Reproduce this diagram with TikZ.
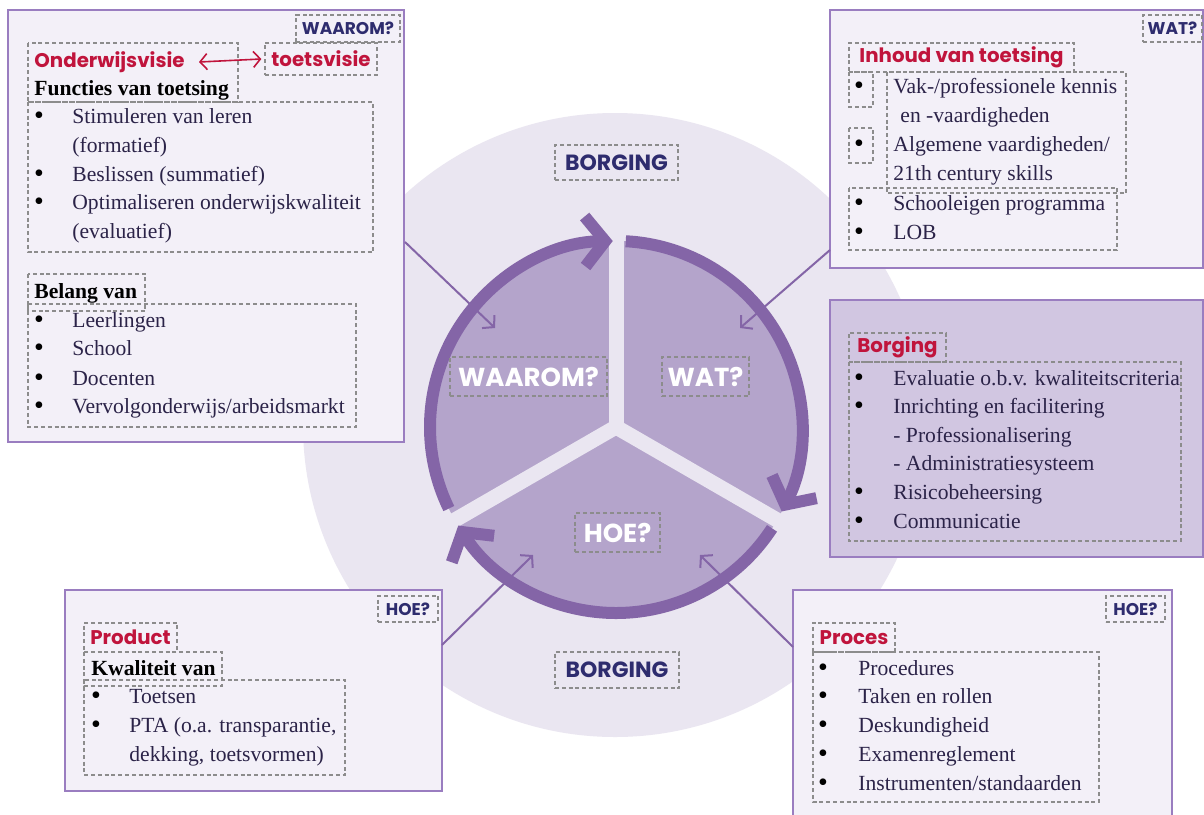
\documentclass[tikz,border=0pt]{standalone}
\usepackage{fontspec}
\setmainfont{Liberation Serif}
\newfontfamily\headfont{Poppins}
\usetikzlibrary{arrows.meta}

\definecolor{bgcircle}{HTML}{EAE6F1}
\definecolor{sectorfill}{HTML}{B4A4CB}
\definecolor{ringcol}{HTML}{8465A7}
\definecolor{boxline}{HTML}{9A7DC0}
\definecolor{boxfill}{HTML}{F3F0F8}
\definecolor{borgfill}{HTML}{D1C6E1}
\definecolor{navy}{HTML}{2E2C6E}
\definecolor{crimson}{HTML}{C0143C}
\definecolor{ink}{HTML}{2B2348}
\definecolor{dashgray}{HTML}{8C8C8C}

\tikzset{
  infobox/.style={draw=boxline, line width=1pt, fill=boxfill},
  dbox/.style={draw=dashgray, line width=0.6pt, dash pattern=on 2pt off 1.4pt},
  tag/.style={dbox, inner sep=0pt, text=navy, font=\headfont\bfseries\fontsize{8.5}{10}\selectfont},
  head/.style={inner sep=0pt, text=crimson, font=\headfont\bfseries\fontsize{9.9}{12}\selectfont},
  wheellabel/.style={dbox, inner sep=0pt, text=white, font=\headfont\bfseries\fontsize{13}{15}\selectfont},
  body/.style={anchor=west, inner sep=0pt, text=ink, text height=1.6ex, text depth=.4ex, font=\fontsize{10.8}{14.5}\selectfont},
  bold/.style={body, text=black, font=\bfseries\fontsize{10.8}{14.5}\selectfont},
  bul/.style={inner sep=0pt, text=black, font=\fontsize{14}{14.5}\selectfont},
  ring/.style={draw=ringcol, line width=6pt, -{Straight Barb[length=10pt,width=25pt]}},
  gap/.style={draw=bgcircle, line width=7.5pt},
  pointer/.style={draw=ringcol, line width=1pt, -{Straight Barb[length=4pt,width=9pt]}},
  redarrow/.style={draw=crimson, line width=0.8pt, {Straight Barb[length=3.5pt,width=8pt]}-{Straight Barb[length=3.5pt,width=8pt]}}
}

\begin{document}
\begin{tikzpicture}[x=0.5pt, y=-0.5pt, line join=miter]
\useasboundingbox (0,0) rectangle (1204,814);
\fill[white] (0,0) rectangle (1204,814);
\path
  (615,425) coordinate (O)
  (616,427) coordinate (W)
  (405,242) coordinate (pwaarom) (495,328) coordinate (twaarom)
  (830,250) coordinate (pwat) (740,328) coordinate (twat)
  (442,645) coordinate (pproduct) (533,555) coordinate (tproduct)
  (793,647) coordinate (pproces) (700,555) coordinate (tproces)
  ;
\fill[bgcircle] (O) circle[radius=312];

% wheel
\fill[sectorfill] (W) circle[radius=186];
\draw[gap] (W) -- ++(-90:192);
\draw[gap] (W) -- ++(150:192);
\draw[gap] (W) -- ++(30:192);
\draw[ring] ([shift={(-206:186)}]W) arc[start angle=-206, end angle=-91, radius=186];
\draw[ring] ([shift={(-87:186)}]W) arc[start angle=-87, end angle=27, radius=186];
\draw[ring] ([shift={(33:186)}]W) arc[start angle=33, end angle=148, radius=186];

\node[tag, minimum width=61.5pt, minimum height=17.5pt, font=\headfont\bfseries\fontsize{11}{13}\selectfont] (borgtop) at (616.5,162.5) {BORGING};
\node[tag, minimum width=62pt, minimum height=18pt, font=\headfont\bfseries\fontsize{11}{13}\selectfont] (borgbottom) at (617,670) {BORGING};
\node[wheellabel, minimum width=78.5pt, minimum height=19.5pt] (waarom) at (528.5,376.5) {WAAROM?};
\node[wheellabel, minimum width=43.5pt, minimum height=19.5pt] (wat) at (705.5,376.5) {WAT?};
\node[wheellabel, minimum width=42.5pt, minimum height=19.5pt] (hoe) at (617.5,532.5) {HOE?};

% boxes
\draw[infobox] (8,10) rectangle (404,442);
\draw[infobox] (830,10) rectangle (1203,268);
\draw[infobox, fill=borgfill] (830,300) rectangle (1203,557);
\draw[infobox] (65,590) rectangle (442,791);
\draw[infobox] (793,590) rectangle (1172,818);

\draw[pointer] (pwaarom) -- (twaarom);
\draw[pointer] (pwat) -- (twat);
\draw[pointer] (pproduct) -- (tproduct);
\draw[pointer] (pproces) -- (tproces);

% waarom
\node[tag, minimum width=52pt, minimum height=13.5pt] (tagwaarom) at (348,28.5) {WAAROM?};
\draw[dbox] (28,43) rectangle (238,102);
\node[head, anchor=west] (ov) at (34,62) {Onderwijsvisie};
\node[head, dbox, minimum width=56pt, minimum height=16pt] (tv) at (321,59) {toetsvisie};
\draw[redarrow] ([xshift=7pt]ov.east) -- ([xshift=-1.5pt]tv.west);
\node[bold] (functies) at (34,90) {Functies van toetsing};
\draw[dbox] (28,102) rectangle (373,252);
\foreach \y/\t in {118/Stimuleren van leren, 147/{(formatief)}, 176/{Beslissen (summatief)}, 204/Optimaliseren onderwijskwaliteit, 233/{(evaluatief)}}
  \node[body] (f\y) at (72,\y) {\t};
\foreach \y in {118,176,204}
  \node[bul] (fb\y) at (39,\y) {\textbullet};
\draw[dbox] (28,274) rectangle (145,311);
\node[bold] (belang) at (34,293) {Belang van};
\draw[dbox] (28,304) rectangle (356,427);
\foreach \y/\t in {322/Leerlingen, 350/School, 380/Docenten, 408/{Vervolgonderwijs/arbeidsmarkt}}
  \node[body] (b\y) at (72,\y) {\t};
\foreach \y in {322,350,380,408}
  \node[bul] (bb\y) at (39,\y) {\textbullet};

% wat
\node[tag, minimum width=29.5pt, minimum height=13.5pt] (tagwat) at (1172.5,28.5) {WAT?};
\node[head, dbox, minimum width=112.5pt, minimum height=14.5pt] (inhoud) at (961.5,57.5) {Inhoud van toetsing};
\draw[dbox] (849,72) rectangle (873,107);
\draw[dbox] (849,128) rectangle (873,163);
\draw[dbox] (887,72) rectangle (1126,193);
\node[body] (i1) at (893,88) {Vak-/professionele kennis};
\node[body] (i2) at (900,117) {en -vaardigheden};
\node[body] (i3) at (893,146) {Algemene vaardigheden/};
\node[body] (i4) at (893,175) {21th century skills};
\draw[dbox] (849,188) rectangle (1117,250);
\node[body] (i5) at (893,205) {Schooleigen programma};
\node[body] (i6) at (893,234) {LOB};
\foreach \y in {88,146,205,234}
  \node[bul] (ib\y) at (859,\y) {\textbullet};

% borging
\node[head, dbox, minimum width=48.5pt, minimum height=14.5pt] (borging) at (897.5,347.5) {Borging};
\draw[dbox] (849,362) rectangle (1181,541);
\foreach \y/\t in {380/Evaluatie o.b.v. kwaliteitscriteria, 408/Inrichting en facilitering, 437/- Professionalisering, 465/- Administratiesysteem, 494/Risicobeheersing, 523/Communicatie}
  \node[body] (g\y) at (893,\y) {\t};
\foreach \y in {380,408,494,523}
  \node[bul] (gb\y) at (859,\y) {\textbullet};

% hoe: product
\node[tag, minimum width=30pt, minimum height=13pt] (taghoea) at (408,609) {HOE?};
\node[head, dbox, minimum width=46.5pt, minimum height=14.5pt] (product) at (130.5,637.5) {Product};
\draw[dbox] (84,652) rectangle (222,686);
\node[bold] (kwaliteit) at (91,670) {Kwaliteit van};
\draw[dbox] (84,680) rectangle (345,775);
\foreach \y/\t in {698/Toetsen, 727/{PTA (o.a. transparantie,}, 756/{dekking, toetsvormen)}}
  \node[body] (k\y) at (129,\y) {\t};
\foreach \y in {698,727}
  \node[bul] (kb\y) at (96,\y) {\textbullet};

% hoe: proces
\node[tag, minimum width=29.5pt, minimum height=13pt] (taghoeb) at (1135.5,609) {HOE?};
\node[head, dbox, minimum width=41pt, minimum height=14.5pt] (proces) at (854,637.5) {Proces};
\draw[dbox] (813,652) rectangle (1099,802);
\foreach \y/\t in {670/Procedures, 698/Taken en rollen, 727/Deskundigheid, 756/Examenreglement, 785/{Instrumenten/standaarden}}
  \node[body] (p\y) at (858,\y) {\t};
\foreach \y in {670,698,727,756,785}
  \node[bul] (pb\y) at (823,\y) {\textbullet};
\end{tikzpicture}
\end{document}
